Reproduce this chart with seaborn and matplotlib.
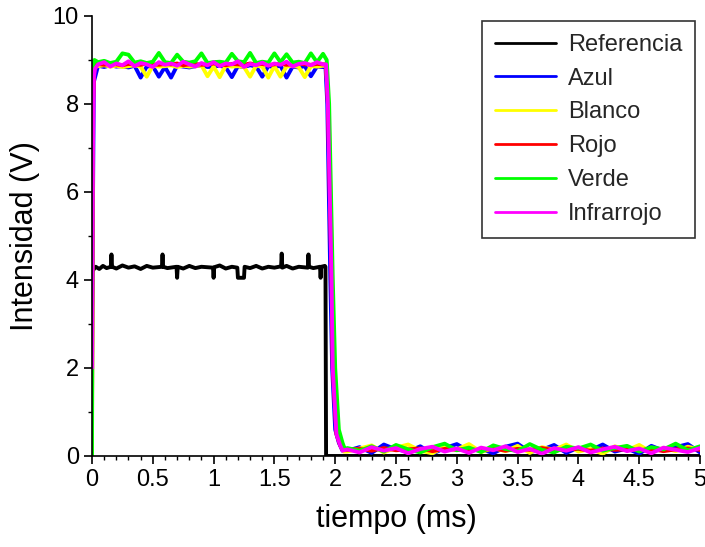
import numpy as np
import pandas as pd
import seaborn as sns
from matplotlib import pyplot as plt
from matplotlib.ticker import MultipleLocator, FuncFormatter

##############################################
# Datos (tiempo en ms, intensidad en V)

t_ref = [0.0, 0.003, 0.03, 0.06, 0.09, 0.12, 0.155, 0.16, 0.165, 0.2,
         0.25, 0.3, 0.35, 0.4, 0.45, 0.5, 0.575, 0.58, 0.585, 0.62,
         0.695, 0.70, 0.705, 0.75, 0.8, 0.85, 0.9, 0.995, 1.0, 1.005,
         1.05, 1.1, 1.15, 1.195, 1.20, 1.25, 1.255, 1.3, 1.35, 1.4,
         1.45, 1.5, 1.555, 1.56, 1.565, 1.6, 1.65, 1.7, 1.775, 1.78,
         1.785, 1.82, 1.875, 1.88, 1.885, 1.915, 1.92, 1.925, 5.0]
v_ref = [0.0, 4.2, 4.3, 4.25, 4.32, 4.27, 4.3, 4.58, 4.3, 4.26,
         4.33, 4.28, 4.31, 4.25, 4.32, 4.28, 4.3, 4.58, 4.3, 4.27,
         4.3, 4.05, 4.3, 4.26, 4.32, 4.27, 4.3, 4.28, 4.05, 4.29,
         4.33, 4.26, 4.3, 4.28, 4.05, 4.05, 4.3, 4.27, 4.32, 4.26,
         4.3, 4.28, 4.31, 4.6, 4.28, 4.32, 4.26, 4.3, 4.28, 4.58,
         4.3, 4.27, 4.3, 4.05, 4.3, 4.32, 4.3, 0.0, 0.0]

# tiempos comunes de la meseta y del fondo
t_meseta = [0.05, 0.10, 0.15, 0.20, 0.25, 0.30, 0.35, 0.40, 0.45, 0.50,
            0.55, 0.60, 0.65, 0.70, 0.75, 0.80, 0.85, 0.90, 0.95, 1.00,
            1.05, 1.10, 1.15, 1.20, 1.25, 1.30, 1.35, 1.40, 1.45, 1.50,
            1.55, 1.60, 1.65, 1.70, 1.75, 1.80, 1.85, 1.90]
t_fondo = [2.1, 2.2, 2.3, 2.4, 2.5, 2.6, 2.7, 2.8, 2.9, 3.0,
           3.1, 3.2, 3.3, 3.4, 3.5, 3.6, 3.7, 3.8, 3.9, 4.0,
           4.1, 4.2, 4.3, 4.4, 4.5, 4.6, 4.7, 4.8, 4.9, 5.0]

# Azul
azul_sub_t = [0.0, 0.004, 0.015]
azul_sub_v = [3.2, 4.2, 8.5]
azul_meseta = [8.87, 8.84, 8.88, 8.85, 8.86, 8.83, 8.87, 8.60, 8.85, 8.86,
               8.62, 8.84, 8.60, 8.87, 8.85, 8.83, 8.86, 8.88, 8.84, 8.85,
               8.87, 8.83, 8.61, 8.86, 8.84, 8.88, 8.85, 8.62, 8.86, 8.84,
               8.87, 8.60, 8.85, 8.83, 8.86, 8.63, 8.85, 8.84]
azul_baj_t = [1.92, 1.935, 1.96, 1.975, 2.0, 2.03, 2.06]
azul_baj_v = [8.85, 8.0, 4.0, 2.0, 0.6, 0.3, 0.12]
azul_fondo = [0.12, 0.20, 0.07, 0.26, 0.15, 0.10, 0.22, 0.05, 0.18, 0.27,
              0.11, 0.16, 0.06, 0.21, 0.28, 0.09, 0.14, 0.25, 0.07, 0.19,
              0.13, 0.26, 0.10, 0.17, 0.05, 0.23, 0.12, 0.20, 0.27, 0.08]

# Blanco
blanco_sub_t = [0.0, 0.006, 0.02]
blanco_sub_v = [0.0, 8.7, 8.86]
blanco_meseta = [8.86, 8.88, 8.85, 8.87, 8.84, 8.86, 8.88, 8.85, 8.62, 8.87,
                 8.85, 8.86, 8.88, 8.84, 8.87, 8.85, 8.86, 8.88, 8.63, 8.85,
                 8.61, 8.87, 8.85, 8.86, 8.84, 8.62, 8.87, 8.85, 8.60, 8.86,
                 8.62, 8.85, 8.87, 8.84, 8.61, 8.86, 8.85, 8.87]
blanco_baj_t = [1.925, 1.945, 1.975, 1.99, 2.02, 2.05, 2.07]
blanco_baj_v = [8.86, 8.0, 4.0, 2.0, 0.5, 0.25, 0.1]
blanco_fondo = [0.10, 0.17, 0.24, 0.08, 0.19, 0.26, 0.12, 0.06, 0.21, 0.15,
                0.27, 0.09, 0.18, 0.11, 0.23, 0.07, 0.20, 0.14, 0.26, 0.10,
                0.16, 0.05, 0.22, 0.13, 0.25, 0.09, 0.18, 0.11, 0.21, 0.15]

# Rojo
rojo_sub_t = [0.0, 0.008, 0.02]
rojo_sub_v = [1.0, 8.0, 8.9]
rojo_meseta = [8.91, 8.89, 8.92, 8.90, 8.88, 8.91, 8.90, 8.89, 8.92, 8.90,
               8.89, 8.91, 8.90, 8.92, 8.88, 8.90, 8.91, 8.89, 8.90, 8.92,
               8.90, 8.88, 8.91, 8.90, 8.89, 8.92, 8.90, 8.91, 8.88, 8.90,
               8.91, 8.89, 8.90, 8.92, 8.90, 8.89, 8.91, 8.90]
rojo_baj_t = [1.925, 1.94, 1.97, 1.98, 2.01, 2.04, 2.06]
rojo_baj_v = [8.9, 8.0, 4.0, 2.0, 0.5, 0.25, 0.14]
rojo_fondo = [0.14, 0.16, 0.12, 0.18, 0.13, 0.15, 0.17, 0.11, 0.16, 0.14,
              0.15, 0.13, 0.17, 0.12, 0.16, 0.14, 0.18, 0.13, 0.15, 0.16,
              0.12, 0.17, 0.14, 0.15, 0.13, 0.16, 0.11, 0.15, 0.17, 0.14]

# Verde
verde_sub_t = [0.0, 0.004, 0.02]
verde_sub_v = [0.0, 8.7, 9.0]
verde_meseta = [8.95, 8.98, 8.93, 8.96, 9.15, 9.12, 8.94, 8.97, 8.93, 8.96,
                9.16, 8.95, 8.93, 9.12, 8.96, 8.94, 8.97, 9.15, 8.93, 8.95,
                8.96, 8.94, 9.14, 8.97, 8.95, 9.16, 8.93, 8.96, 8.94, 9.15,
                8.95, 9.13, 8.94, 8.96, 8.93, 9.15, 8.95, 9.14]
verde_baj_t = [1.93, 1.95, 1.98, 2.0, 2.03, 2.06, 2.08]
verde_baj_v = [9.0, 8.0, 4.0, 2.0, 0.6, 0.3, 0.15]
verde_fondo = [0.18, 0.12, 0.22, 0.10, 0.25, 0.15, 0.08, 0.20, 0.28, 0.13,
               0.19, 0.09, 0.24, 0.16, 0.11, 0.27, 0.14, 0.08, 0.21, 0.17,
               0.26, 0.12, 0.18, 0.23, 0.10, 0.20, 0.15, 0.28, 0.13, 0.22]

# Infrarrojo
ir_sub_t = [0.0, 0.008, 0.015, 0.025]
ir_sub_v = [2.0, 7.0, 8.6, 8.8]
ir_meseta = [8.90, 8.95, 8.85, 8.92, 8.88, 8.97, 8.86, 8.93, 8.90, 8.84,
             8.95, 8.89, 8.92, 8.87, 8.96, 8.90, 8.85, 8.93, 8.88, 8.95,
             8.86, 8.92, 8.90, 8.97, 8.84, 8.91, 8.88, 8.94, 8.87, 8.92,
             8.89, 8.96, 8.85, 8.91, 8.93, 8.88, 8.95, 8.90]
ir_baj_t = [1.925, 1.94, 1.97, 1.98, 2.01, 2.04, 2.06]
ir_baj_v = [8.9, 8.0, 4.0, 2.0, 0.5, 0.25, 0.12]
ir_fondo = [0.15, 0.08, 0.20, 0.12, 0.18, 0.06, 0.16, 0.21, 0.10, 0.17,
            0.07, 0.19, 0.13, 0.22, 0.09, 0.16, 0.05, 0.18, 0.12, 0.20,
            0.08, 0.15, 0.21, 0.11, 0.17, 0.06, 0.19, 0.14, 0.09, 0.18]

series = ["Referencia", "Azul", "Blanco", "Rojo", "Verde", "Infrarrojo"]
colores = ["#000000", "#0000ff", "#ffff00", "#ff0000", "#00ff00", "#ff00ff"]

##############################################


def armar(nombre, sub_t, sub_v, meseta, baj_t, baj_v, fondo):
    """Une las partes de una senal en un DataFrame largo."""
    t = list(sub_t) + t_meseta + list(baj_t) + t_fondo
    v = list(sub_v) + list(meseta) + list(baj_v) + list(fondo)
    return pd.DataFrame({"t": t, "v": v, "serie": nombre})


df = pd.concat(
    [
        pd.DataFrame({"t": t_ref, "v": v_ref, "serie": "Referencia"}),
        armar("Azul", azul_sub_t, azul_sub_v, azul_meseta, azul_baj_t, azul_baj_v, azul_fondo),
        armar("Blanco", blanco_sub_t, blanco_sub_v, blanco_meseta, blanco_baj_t, blanco_baj_v, blanco_fondo),
        armar("Rojo", rojo_sub_t, rojo_sub_v, rojo_meseta, rojo_baj_t, rojo_baj_v, rojo_fondo),
        armar("Verde", verde_sub_t, verde_sub_v, verde_meseta, verde_baj_t, verde_baj_v, verde_fondo),
        armar("Infrarrojo", ir_sub_t, ir_sub_v, ir_meseta, ir_baj_t, ir_baj_v, ir_fondo),
    ],
    ignore_index=True,
)

##############################################

sns.set_theme(style="ticks")
plt.rcParams["font.family"] = ["Liberation Sans", "DejaVu Sans"]

fig = plt.figure(figsize=(7.05, 5.47), dpi=100)
ax = fig.add_axes([0.1305, 0.1664, 0.8624, 0.8044])

sns.lineplot(
    data=df, x="t", y="v", hue="serie",
    hue_order=series, palette=dict(zip(series, colores)),
    estimator=None, sort=False, linewidth=2.8, ax=ax,
)

ax.set_xlim(0, 5)
ax.set_ylim(0, 10)
ax.xaxis.set_major_locator(MultipleLocator(0.5))
ax.xaxis.set_minor_locator(MultipleLocator(0.1))
ax.yaxis.set_major_locator(MultipleLocator(2))
ax.yaxis.set_minor_locator(MultipleLocator(1))
ax.xaxis.set_major_formatter(FuncFormatter(lambda x, _: f"{x:g}"))
ax.tick_params(which="major", direction="out", length=6, width=1.2,
               labelsize=17, color="black", labelcolor="black")
ax.tick_params(which="minor", direction="out", length=3, width=1.0, color="black")

for lado in ["top", "right"]:
    ax.spines[lado].set_visible(False)
for lado in ["left", "bottom"]:
    ax.spines[lado].set_color("black")
    ax.spines[lado].set_linewidth(1.2)

ax.set_xlabel("tiempo (ms)", fontsize=22, labelpad=9, color="black")
ax.set_ylabel("Intensidad (V)", fontsize=22, labelpad=9, color="black")

handles, labels = ax.get_legend_handles_labels()
leg = ax.legend(
    handles, labels,
    loc="upper right", bbox_to_anchor=(0.986, 0.962), bbox_transform=fig.transFigure,
    fontsize=17, handlelength=2.6, handletextpad=0.5, labelspacing=0.5,
    frameon=True, fancybox=False, borderaxespad=0, borderpad=0.55,
)
leg.get_frame().set_edgecolor("black")
leg.get_frame().set_linewidth(1.2)
for linea in leg.get_lines():
    linea.set_linewidth(2)

fig.savefig("out.png", dpi=100)
